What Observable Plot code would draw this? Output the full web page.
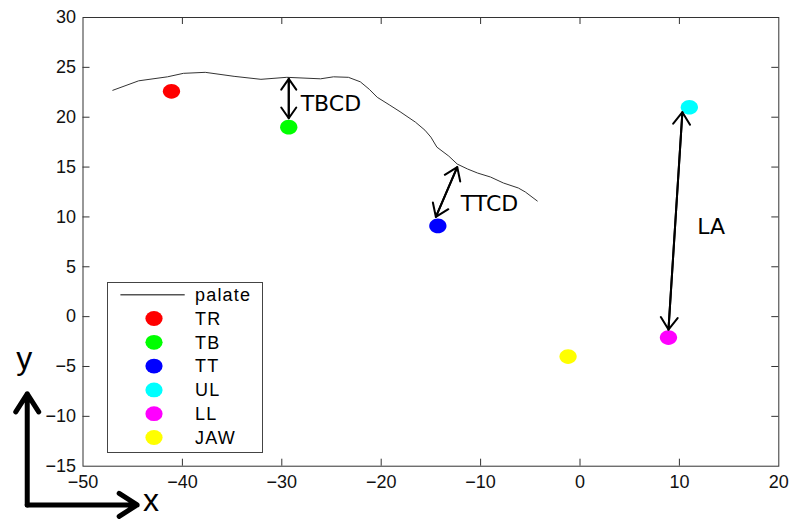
<!DOCTYPE html>
<html>
<head>
<meta charset="utf-8">
<script src="https://cdn.jsdelivr.net/npm/d3@7"></script>
<script src="https://cdn.jsdelivr.net/npm/@observablehq/plot@0.6"></script>
<style>
  html, body { margin: 0; padding: 0; background: #fff; }
  #chart { position: relative; width: 790px; height: 520px; overflow: hidden; }
  #legend { position: absolute; left: 107px; top: 282px; }
</style>
</head>
<body>
<div id="chart"></div>
<script>
// Palate contour (mm)
const palateX = [-47.0, -44.4, -41.5, -39.9, -37.7, -34.8, -32.1, -29.5, -26.1, -24.8, -23.3, -22.1, -21.2, -20.4, -19.2, -18.1, -16.55, -15.6, -15.0, -14.4, -13.2, -12.35, -11.3, -10.3, -9.0, -7.7, -6.2, -5.5, -4.3];
const palateY = [22.7, 23.65, 24.05, 24.4, 24.5, 24.1, 23.8, 24.0, 23.85, 24.05, 24.0, 23.55, 22.8, 22.0, 21.25, 20.55, 19.5, 18.7, 18.0, 17.0, 16.1, 15.3, 14.8, 14.4, 14.0, 13.4, 12.9, 12.5, 11.6];

// Sensor positions
const sensors = ["TR", "TB", "TT", "UL", "LL", "JAW"];
const sensorX = [-41.1, -29.3, -14.3, 11.0, 8.9, -1.2];
const sensorY = [22.6, 19.0, 9.1, 21.0, -2.1, -4.0];
const sensorColors = ["#ff0000", "#00ff00", "#0000ff", "#00ffff", "#ff00ff", "#ffff00"];

// Distance measures (double-headed arrows) and their labels
const measures = ["TBCD", "TTCD", "LA"];
const measureX1 = [-29.3, -14.5, 8.9];
const measureY1 = [19.9, 10.0, -1.3];
const measureX2 = [-29.3, -12.35, 10.3];
const measureY2 = [23.85, 15.0, 20.5];
const labelX = [-28.1, -12.0, 11.8];
const labelY = [20.6, 10.6, 8.3];

// Coordinate-system guide (x and y direction arrows)
const guideNames = ["x", "y"];
const guideX2 = [-44.55, -55.61];
const guideY2 = [-18.88, -7.74];
const guideOriginX = -55.61;
const guideOriginY = -18.88;
const guideLabelX = [-43.16, -55.9];
const guideLabelY = [-19.5, -5.27];

// Axis ticks
const xTicks = [-50, -40, -30, -20, -10, 0, 10, 20];
const yTicks = [-15, -10, -5, 0, 5, 10, 15, 20, 25, 30];

const palate = palateX.map((x, i) => ({x, y: palateY[i]}));
const points = sensors.map((name, i) => ({name, x: sensorX[i], y: sensorY[i], color: sensorColors[i]}));
const arrows = measures.map((name, i) => ({name, x1: measureX1[i], y1: measureY1[i], x2: measureX2[i], y2: measureY2[i], lx: labelX[i], ly: labelY[i]}));
const guides = guideNames.map((name, i) => ({name, x2: guideX2[i], y2: guideY2[i], lx: guideLabelX[i], ly: guideLabelY[i]}));

// Slightly wide ellipse used for the sensor markers
const ellipse = {
  draw(ctx, size) {
    const r = Math.sqrt(size / Math.PI), rx = r * 1.08, ry = r * 0.92, k = 0.5523;
    ctx.moveTo(rx, 0);
    ctx.bezierCurveTo(rx, ry * k, rx * k, ry, 0, ry);
    ctx.bezierCurveTo(-rx * k, ry, -rx, ry * k, -rx, 0);
    ctx.bezierCurveTo(-rx, -ry * k, -rx * k, -ry, 0, -ry);
    ctx.bezierCurveTo(rx * k, -ry, rx, -ry * k, rx, 0);
    ctx.closePath();
  }
};

const W = 790, H = 520;
const mL = 82.5, mR = 11.7, mT = 17, mB = 54.3;
const innerW = W - mL - mR, innerH = H - mT - mB;
const tickLen = 7;

const chart = Plot.plot({
  width: W,
  height: H,
  marginLeft: mL,
  marginRight: mR,
  marginTop: mT,
  marginBottom: mB,
  style: {fontFamily: "'Liberation Sans', Arial, sans-serif", fontSize: "18px", color: "#000", background: "#fff"},
  x: {domain: [-50, 20], label: null},
  y: {domain: [-15, 30], label: null},
  marks: [
    Plot.axisX(xTicks, {tickSize: 0, tickPadding: 9, fontSize: 18, fill: "#111"}),
    Plot.axisY(yTicks, {tickSize: 0, tickPadding: 7, fontSize: 18, fill: "#111"}),
    // inward ticks on all four sides
    Plot.tickX(xTicks.slice(1, -1), {x: d => d, insetTop: innerH - tickLen, stroke: "#333"}),
    Plot.tickX(xTicks.slice(1, -1), {x: d => d, insetBottom: innerH - tickLen, stroke: "#333"}),
    Plot.tickY(yTicks.slice(1, -1), {y: d => d, insetRight: innerW - tickLen, stroke: "#333"}),
    Plot.tickY(yTicks.slice(1, -1), {y: d => d, insetLeft: innerW - tickLen, stroke: "#333"}),
    Plot.frame({stroke: "#333", strokeWidth: 1}),
    Plot.line(palate, {x: "x", y: "y", stroke: "#333", strokeWidth: 1}),
    Plot.dot(points, {x: "x", y: "y", fill: "color", r: 8, symbol: ellipse, stroke: null}),
    Plot.arrow(arrows, {x1: "x1", y1: "y1", x2: "x2", y2: "y2", stroke: "#000", strokeWidth: 2, headLength: 11, headAngle: 70}),
    Plot.arrow(arrows, {x1: "x2", y1: "y2", x2: "x1", y2: "y1", stroke: "#000", strokeWidth: 2, headLength: 11, headAngle: 70}),
    Plot.text(arrows, {x: "lx", y: "ly", text: "name", textAnchor: "start", lineAnchor: "bottom", fontSize: 22, fontFamily: "'DejaVu Sans', sans-serif", fill: "#000"}),
    Plot.arrow(guides, {x1: guideOriginX, y1: guideOriginY, x2: "x2", y2: "y2", stroke: "#000", strokeWidth: 5, headLength: 6.4, headAngle: 65}),
    Plot.text(guides, {x: "lx", y: "ly", text: "name", textAnchor: "middle", lineAnchor: "bottom", fontSize: 32, fill: "#000"})
  ]
});
document.getElementById("chart").appendChild(chart);

// Legend box drawn over the lower-left of the plot area
const lgW = 155, lgH = 170;
const legend = d3.select("#chart").append("svg")
  .attr("id", "legend")
  .attr("width", lgW + 1).attr("height", lgH + 1)
  .style("font-family", "'Liberation Sans', Arial, sans-serif")
  .style("font-size", "18px");
legend.append("rect")
  .attr("x", 0.5).attr("y", 0.5).attr("width", lgW).attr("height", lgH)
  .attr("fill", "#fff").attr("stroke", "#444").attr("stroke-width", 1);
const rowY0 = 12.7, rowStep = 23.8, swatchX = 47, textX = 88;
legend.append("line")
  .attr("x1", 13.4).attr("x2", 77.7).attr("y1", rowY0).attr("y2", rowY0)
  .attr("stroke", "#555").attr("stroke-width", 1.5);
legend.append("text")
  .attr("x", textX).attr("y", rowY0).attr("dy", "0.35em")
  .attr("letter-spacing", "1.2px").text("palate");
points.forEach((p, i) => {
  const cy = rowY0 + rowStep * (i + 1);
  legend.append("ellipse").attr("cx", swatchX).attr("cy", cy).attr("rx", 8.6).attr("ry", 7.4).attr("fill", p.color);
  legend.append("text").attr("x", textX).attr("y", cy).attr("dy", "0.35em")
    .attr("letter-spacing", "1.2px").text(p.name);
});
</script>
</body>
</html>
